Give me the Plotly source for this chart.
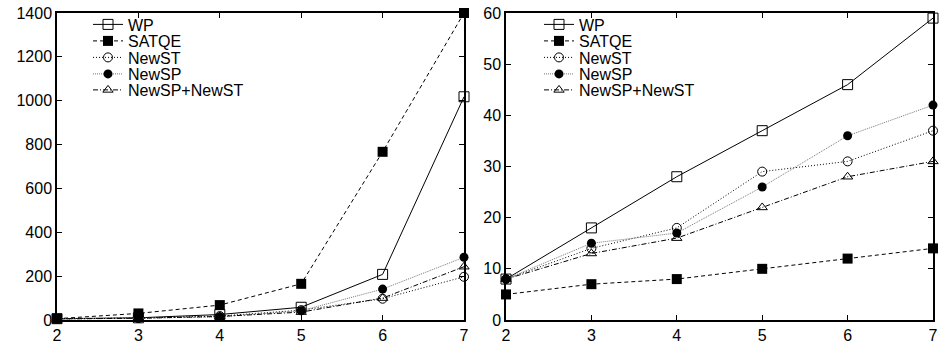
import plotly.graph_objects as go

x_vals = [2, 3, 4, 5, 6, 7]
series_names = ["WP", "SATQE", "NewST", "NewSP", "NewSP+NewST"]

left_WP = [6, 10, 25, 58, 208, 1018]
left_SATQE = [6, 30, 68, 165, 767, 1400]
left_NewST = [5, 9, 18, 45, 97, 197]
left_NewSP = [5, 8, 15, 42, 141, 286]
left_NewSPST = [5, 8, 16, 36, 100, 243]

right_WP = [8, 18, 28, 37, 46, 59]
right_SATQE = [5, 7, 8, 10, 12, 14]
right_NewST = [8, 14, 18, 29, 31, 37]
right_NewSP = [8, 15, 17, 26, 36, 42]
right_NewSPST = [8, 13, 16, 22, 28, 31]

left_yticks = [0, 200, 400, 600, 800, 1000, 1200, 1400]
right_yticks = [0, 10, 20, 30, 40, 50, 60]

styles = [
    dict(line=dict(color="black", width=1, dash="solid"), marker=dict(symbol="square-open", size=10, color="black", line=dict(width=1))),
    dict(line=dict(color="black", width=1, dash="4px,3px"), marker=dict(symbol="square", size=10, color="black")),
    dict(line=dict(color="black", width=1, dash="1px,2px"), marker=dict(symbol="circle-open", size=9, color="black", line=dict(width=1))),
    dict(line=dict(color="#777777", width=1, dash="1px,1px"), marker=dict(symbol="circle", size=9, color="black")),
    dict(line=dict(color="black", width=1, dash="5px,2px,1px,2px"), marker=dict(symbol="triangle-up-open", size=9, color="black", line=dict(width=1))),
]

left_data = [left_WP, left_SATQE, left_NewST, left_NewSP, left_NewSPST]
right_data = [right_WP, right_SATQE, right_NewST, right_NewSP, right_NewSPST]

W, H = 940, 349
legend_font = dict(family="Liberation Sans, Arial, sans-serif", size=16, color="black")
row_centers = [24.5, 41, 57.5, 74, 90]

fig = go.Figure()
legends = {}
for i, (name, ys, st) in enumerate(zip(series_names, left_data, styles)):
    key = "legend" if i == 0 else f"legend{i + 1}"
    fig.add_trace(go.Scatter(x=x_vals, y=ys, name=name, mode="lines+markers",
                             line=st["line"], marker=st["marker"], cliponaxis=False,
                             xaxis="x", yaxis="y", legend=key))
    legends[key] = dict(x=88 / W, y=1 - row_centers[i] / H, xanchor="left", yanchor="middle",
                        font=legend_font, bgcolor="rgba(0,0,0,0)", itemwidth=30)
for i, (name, ys, st) in enumerate(zip(series_names, right_data, styles)):
    key = f"legend{i + 6}"
    fig.add_trace(go.Scatter(x=x_vals, y=ys, name=name, mode="lines+markers",
                             line=st["line"], marker=st["marker"], cliponaxis=False,
                             xaxis="x2", yaxis="y2", legend=key))
    legends[key] = dict(x=539 / W, y=1 - row_centers[i] / H, xanchor="left", yanchor="middle",
                        font=legend_font, bgcolor="rgba(0,0,0,0)", itemwidth=30)

tick_font = dict(family="Liberation Sans, Arial, sans-serif", size=16, color="black")
axis_common = dict(showline=True, linecolor="black", linewidth=1.5, mirror="ticks",
                   ticks="inside", ticklen=5, tickwidth=1, tickcolor="black",
                   showgrid=False, zeroline=False, tickfont=tick_font, automargin=False)

fig.update_layout(
    width=W, height=H,
    margin=dict(l=0, r=0, t=0, b=0),
    paper_bgcolor="white", plot_bgcolor="white",
    font=tick_font,
    xaxis=dict(domain=[57 / W, 464 / W], range=[2, 7], tickvals=x_vals, anchor="y", **axis_common),
    yaxis=dict(domain=[29 / H, 336 / H], range=[0, 1400], tickvals=left_yticks, anchor="x", **axis_common),
    xaxis2=dict(domain=[506 / W, 933 / W], range=[2, 7], tickvals=x_vals, anchor="y2", **axis_common),
    yaxis2=dict(domain=[29 / H, 336 / H], range=[0, 60], tickvals=right_yticks, anchor="x2", **axis_common),
    showlegend=True,
    **legends,
)

fig.write_html("out.html", config={"displayModeBar": False},
               post_script="document.body.style.margin='0';document.body.style.overflow='hidden';")
